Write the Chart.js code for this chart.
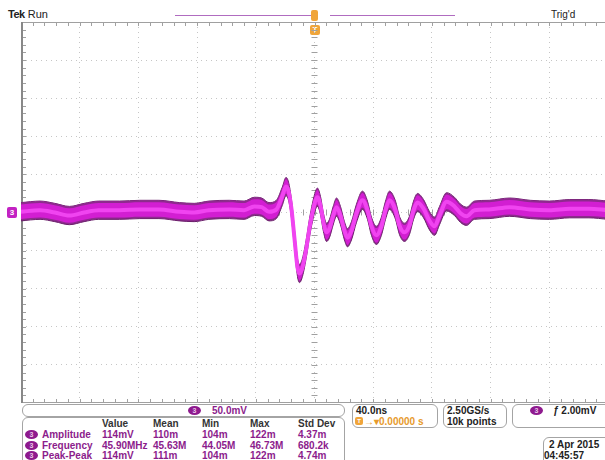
<!DOCTYPE html>
<html lang="en">
<head>
<meta charset="UTF-8">
<title>Tek Run - CH3 ringing</title>
<script src="https://cdn.jsdelivr.net/npm/chart.js"></script>
<style>
  body { margin: 0; width: 605px; height: 460px; overflow: hidden; background: #fff; position: relative;
         font-family: "Liberation Sans", Arial, sans-serif; font-size: 10px; font-weight: bold; color: #222; }
  .abs { position: absolute; white-space: nowrap; line-height: 11px; }
  .box { position: absolute; border: 1px solid #a4a4a4; border-radius: 6px; box-sizing: border-box; }
  .badge { position: absolute; width: 13px; height: 9px; border-radius: 50%; background: #8e1a8e; color: #e9c6e9;
           font-size: 7px; line-height: 9px; text-align: center; }
  .purple { color: #8c1c8c; }
  .orange { color: #e79a2c; }
  #plot { position: absolute; left: 21px; top: 22px; }
</style>
</head>
<body>
<div class="abs" style="left:8px;top:9px;font-size:11px;"><span style="letter-spacing:-0.5px">Tek</span> <span style="font-weight:normal">Run</span></div>
<div class="abs" style="left:175px;top:15px;width:136px;border-top:1px solid #b06cc0;"></div>
<div class="abs" style="left:330px;top:15px;width:125px;border-top:1px solid #b06cc0;"></div>
<div class="abs" style="left:311px;top:10px;width:7px;height:11px;border-radius:2px;background:#f0a53a;"></div>
<div class="abs" style="left:310px;top:25px;width:10px;height:10px;border-radius:2px;background:#f0a53a;color:#fff;font-size:8px;line-height:10px;text-align:center;">T</div>
<div class="abs" style="left:551px;top:9px;font-weight:normal;">Trig'd</div>
<div class="abs" style="left:7px;top:207px;width:10px;height:11px;border-radius:2px;background:#c322c3;color:#fff;font-size:8px;line-height:11px;text-align:center;">3</div>

<div id="plot"><canvas id="scope" width="587" height="381"></canvas></div>

<div class="box" style="left:22px;top:404px;width:323px;height:13px;"></div>
<div class="badge" style="left:188px;top:406px;">3</div>
<div class="abs purple" style="left:212px;top:405px;">50.0mV</div>

<div class="box" style="left:22px;top:417px;width:323px;height:60px;"></div>
<div id="meas"></div>

<div class="box" style="left:352px;top:404px;width:86px;height:24px;"></div>
<div class="abs" style="left:356px;top:405px;">40.0ns</div>
<div class="abs" style="left:355px;top:417px;width:8px;height:8px;border-radius:2px;background:#f0a53a;color:#fff;font-size:6px;line-height:8px;text-align:center;">T</div>
<div class="abs orange" style="left:364px;top:416px;">→▾0.00000 s</div>

<div class="box" style="left:443px;top:404px;width:64px;height:24px;"></div>
<div class="abs" style="left:447px;top:405px;">2.50GS/s</div>
<div class="abs" style="left:447px;top:416px;">10k points</div>

<div class="box" style="left:512px;top:404px;width:110px;height:24px;"></div>
<div class="badge" style="left:530px;top:406px;">3</div>
<div class="abs" style="left:553px;top:405px;"><i>ƒ</i> 2.00mV</div>

<div class="box" style="left:543px;top:437px;width:80px;height:30px;"></div>
<div class="abs" style="left:549px;top:439px;">2 Apr 2015</div>
<div class="abs" style="left:544px;top:450px;">04:45:57</div>

<script>
// CH3 waveform (time in ns from trigger, volts in mV)
const timeNs = [-200, -187, -177, -167, -157, -147, -133, -119, -106, -92, -82, -72, -58, -48, -41, -36, -31, -26, -22,
  -19.4, -17.7, -15.7, -13.6, -11.6, -10.2, -8.2, -5.4, -3.4, -1.4, 0.7, 2, 4.1, 6.1, 8.2, 10.2, 12.9, 15, 17.7, 20.4,
  22.5, 25.2, 28.6, 32.7, 36.1, 38.8, 42.2, 45.6, 48.4, 51.1, 55.2, 57.9, 61.3, 64.7, 67.5, 70.2, 74.3, 78.4, 81.8,
  85.2, 90, 95.4, 99.5, 103.6, 109, 119, 133, 147, 160, 174, 187, 200];
const ch3mV = [1, 3, 0, -4, 0, 3, 3, 4, 4, 1, 0, 3, 4, 3, 8, 7, 1, 4, 21,
  34, 28, 5, -35, -72, -80, -72, -45, -20, 0, 16, 20, 9, -13, -26, -21, -3, 7, -4, -24,
  -33, -24, -1, 16, 3, -18, -30, -18, 3, 16, 3, -17, -26, -17, 3, 13, 5, -11, -18,
  -4, 14, 8, -1, -5, 3, 4, 7, 4, 3, 5, 5, 3];

const timeDivNs = 40;   // 40.0ns / div
const voltDivMv = 50;   // 50.0mV / div

// measurement readout
const measHeaders = ['Value', 'Mean', 'Min', 'Max', 'Std Dev'];
const measNames = ['Amplitude', 'Frequency', 'Peak-Peak'];
const measValue = ['114mV', '45.90MHz', '114mV'];
const measMean = ['110m', '45.63M', '111m'];
const measMin = ['104m', '44.05M', '104m'];
const measMax = ['122m', '46.73M', '122m'];
const measStd = ['4.37m', '680.2k', '4.74m'];

const colX = [102, 153, 202, 250, 298];
let html = '';
measHeaders.forEach((h, i) => {
  html += `<div class="abs" style="left:${colX[i]}px;top:418px;color:#333">${h}</div>`;
});
measNames.forEach((name, r) => {
  const top = 429 + r * 10.5;
  html += `<div class="badge" style="left:25px;top:${top + 1}px;">3</div>`;
  html += `<div class="abs purple" style="left:42px;top:${top}px;">${name}</div>`;
  [measValue, measMean, measMin, measMax, measStd].forEach((col, c) => {
    html += `<div class="abs purple" style="left:${colX[c]}px;top:${top}px;">${col[r]}</div>`;
  });
});
document.getElementById('meas').innerHTML = html;

// graticule: frame, 1/5 division ticks on edges and centre cross
const graticule = {
  id: 'graticule',
  beforeDatasetsDraw(chart) {
    const { ctx, chartArea: a, scales: { x, y } } = chart;
    const cx = x.getPixelForValue(0), cy = y.getPixelForValue(0);
    ctx.save();
    ctx.strokeStyle = '#a0a0a0';
    ctx.lineWidth = 1;
    ctx.beginPath();
    for (let t = x.min; t <= x.max; t += timeDivNs / 5) {
      const px = Math.round(x.getPixelForValue(t)) + 0.5;
      ctx.moveTo(px, a.top); ctx.lineTo(px, a.top + 4);
      ctx.moveTo(px, a.bottom); ctx.lineTo(px, a.bottom - 4);
      ctx.moveTo(px, cy - 3); ctx.lineTo(px, cy + 3);
    }
    for (let v = y.min; v <= y.max; v += voltDivMv / 5) {
      const py = Math.round(y.getPixelForValue(v)) + 0.5;
      ctx.moveTo(a.left, py); ctx.lineTo(a.left + 5, py);
      ctx.moveTo(cx - 3, py); ctx.lineTo(cx + 3, py);
    }
    ctx.stroke();
    ctx.beginPath();
    ctx.moveTo(a.left, a.top + 0.5); ctx.lineTo(a.right, a.top + 0.5);
    ctx.moveTo(a.left, a.bottom - 0.5); ctx.lineTo(a.right, a.bottom - 0.5);
    ctx.stroke();
    ctx.strokeStyle = '#888';
    ctx.lineWidth = 2;
    ctx.beginPath();
    ctx.moveTo(a.left + 1, a.top); ctx.lineTo(a.left + 1, a.bottom);
    ctx.stroke();
    ctx.restore();
  }
};

const pts = off => timeNs.map((t, i) => ({ x: t, y: ch3mV[i] + off }));
const none = 'rgba(0,0,0,0)';

new Chart(document.getElementById('scope'), {
  type: 'line',
  data: {
    datasets: [
      { data: pts(0), borderColor: '#f044f0', borderWidth: 4, order: 1 },
      { data: pts(9.5), borderColor: none, borderWidth: 1, order: 4 },
      { data: pts(-9.5), borderColor: none, borderWidth: 1, fill: 1, backgroundColor: '#d21ed2', order: 3 },
      { data: pts(12), borderColor: '#6a1e6a', borderWidth: 1, order: 6 },
      { data: pts(-12), borderColor: '#6a1e6a', borderWidth: 1, fill: 3, backgroundColor: '#8e2a8e', order: 5 }
    ]
  },
  options: {
    responsive: false,
    animation: false,
    devicePixelRatio: 1,
    layout: { padding: 0 },
    elements: { point: { radius: 0 }, line: { cubicInterpolationMode: 'monotone' } },
    plugins: { legend: { display: false }, tooltip: { enabled: false } },
    scales: {
      x: {
        type: 'linear', min: -5 * timeDivNs, max: 5 * timeDivNs,
        ticks: { display: false, stepSize: timeDivNs },
        grid: { color: '#c6c6c6', drawTicks: false },
        border: { display: false, dash: [1, 4] }
      },
      y: {
        type: 'linear', min: -5 * voltDivMv, max: 5 * voltDivMv,
        ticks: { display: false, stepSize: voltDivMv },
        grid: { color: '#c6c6c6', drawTicks: false },
        border: { display: false, dash: [1, 4] }
      }
    }
  },
  plugins: [graticule]
});
</script>
</body>
</html>
